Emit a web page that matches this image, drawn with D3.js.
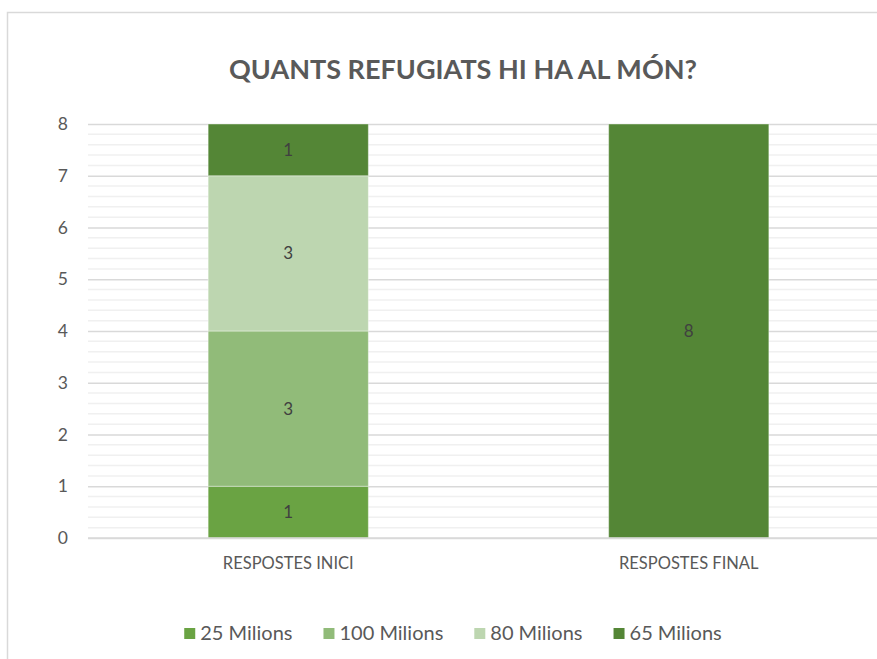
<!DOCTYPE html>
<html>
<head>
<meta charset="utf-8">
<script src="https://cdn.jsdelivr.net/npm/d3@7"></script>
<style>
  html, body { margin: 0; padding: 0; background: #fff; }
  svg { display: block; font-family: Lato, "Open Sans", sans-serif; }
</style>
</head>
<body>
<svg id="chart" width="877" height="659"></svg>
<script>
// categories and series
var categories = ["RESPOSTES INICI", "RESPOSTES FINAL"];
var seriesNames = ["25 Milions", "100 Milions", "80 Milions", "65 Milions"];
var m25 = [1, 0];
var m100 = [3, 0];
var m80 = [3, 0];
var m65 = [1, 8];
var yTicks = [0, 1, 2, 3, 4, 5, 6, 7, 8];
var colors = ["#6aa343", "#91bb79", "#bdd6b0", "#548636"];

var svg = d3.select("#chart"),
    width = +svg.attr("width"),
    height = +svg.attr("height");

var rows = categories.map(function (c, i) {
  return { cat: c, "25 Milions": m25[i], "100 Milions": m100[i], "80 Milions": m80[i], "65 Milions": m65[i] };
});

var stack = d3.stack().keys(seriesNames)(rows);

var x = d3.scaleBand()
  .domain(categories)
  .range([88, 889])
  .paddingInner(0.6)
  .paddingOuter(0.3);

var y = d3.scaleLinear()
  .domain([0, 8])
  .range([538, 124]);

var color = d3.scaleOrdinal().domain(seriesNames).range(colors);

// outer frame (chart is cut off on the right)
svg.append("path")
  .attr("d", "M7.5," + height + "V12.5H" + width)
  .attr("fill", "none")
  .attr("stroke", "#d9d9d9")
  .attr("stroke-width", 1.5);

// title
svg.append("text")
  .attr("x", 463)
  .attr("y", 79)
  .attr("text-anchor", "middle")
  .attr("font-size", 27)
  .attr("font-weight", "bold")
  .attr("fill", "#595959")
  .attr("textLength", 468)
  .attr("lengthAdjust", "spacingAndGlyphs")
  .text("QUANTS REFUGIATS HI HA AL MÓN?");

// minor gridlines
var minor = d3.range(0, 8.001, 0.2).filter(function (v) { return Math.abs(v - Math.round(v)) > 1e-6; });
svg.append("g").selectAll("line")
  .data(minor)
  .join("line")
  .attr("x1", 88).attr("x2", width)
  .attr("y1", function (d) { return y(d); })
  .attr("y2", function (d) { return y(d); })
  .attr("stroke", "#f0f0f0")
  .attr("stroke-width", 1.5);

// y axis with major gridlines
var yAxis = svg.append("g")
  .attr("transform", "translate(88,0)")
  .call(d3.axisLeft(y).tickValues(yTicks).tickSize(-(width - 88)).tickPadding(20).tickFormat(d3.format("d")));
yAxis.select(".domain").remove();
yAxis.selectAll(".tick line").attr("stroke", "#d9d9d9").attr("stroke-width", 1.5);
yAxis.selectAll(".tick text")
  .attr("font-size", 17.5)
  .attr("fill", "#595959")
  .attr("font-family", "Lato, sans-serif");

// stacked bars
var layers = svg.append("g").selectAll("g")
  .data(stack)
  .join("g")
  .attr("fill", function (d) { return color(d.key); });

layers.selectAll("rect")
  .data(function (d) { return d.filter(function (p) { return p[1] - p[0] > 0; }); })
  .join("rect")
  .attr("x", function (d) { return x(d.data.cat); })
  .attr("y", function (d) { return y(d[1]); })
  .attr("width", x.bandwidth())
  .attr("height", function (d) { return y(d[0]) - y(d[1]); })
  .attr("stroke", "#ffffff")
  .attr("stroke-opacity", 0.4)
  .attr("stroke-width", 1);

// data labels
layers.selectAll("text")
  .data(function (d) { return d.filter(function (p) { return p[1] - p[0] > 0; }); })
  .join("text")
  .attr("x", function (d) { return x(d.data.cat) + x.bandwidth() / 2; })
  .attr("y", function (d) { return (y(d[0]) + y(d[1])) / 2 + 6; })
  .attr("text-anchor", "middle")
  .attr("font-size", 17)
  .attr("fill", "#404040")
  .text(function (d) { return d[1] - d[0]; });

// baseline
svg.append("line")
  .attr("x1", 88).attr("x2", width)
  .attr("y1", y(0)).attr("y2", y(0))
  .attr("stroke", "#d9d9d9")
  .attr("stroke-width", 1.5);

// category labels
svg.append("g").selectAll("text")
  .data(categories)
  .join("text")
  .attr("x", function (d) { return x(d) + x.bandwidth() / 2; })
  .attr("y", 569)
  .attr("text-anchor", "middle")
  .attr("font-size", 16.5)
  .attr("fill", "#595959")
  .text(function (d) { return d; });

// legend
var legend = svg.append("g");
var items = legend.selectAll("g")
  .data(seriesNames)
  .join("g");
items.append("rect")
  .attr("width", 11).attr("height", 11)
  .attr("y", 628)
  .attr("fill", function (d) { return color(d); });
items.append("text")
  .attr("x", 16)
  .attr("y", 640)
  .attr("font-size", 20)
  .attr("fill", "#595959")
  .text(function (d) { return d; });

var gap = 31;
var pos = 0, offsets = [];
items.each(function () {
  offsets.push(pos);
  pos += 16 + this.querySelector("text").getComputedTextLength() + gap;
});
var total = pos - gap;
var start = 453 - total / 2;
items.attr("transform", function (d, i) { return "translate(" + (start + offsets[i]) + ",0)"; });
</script>
</body>
</html>
